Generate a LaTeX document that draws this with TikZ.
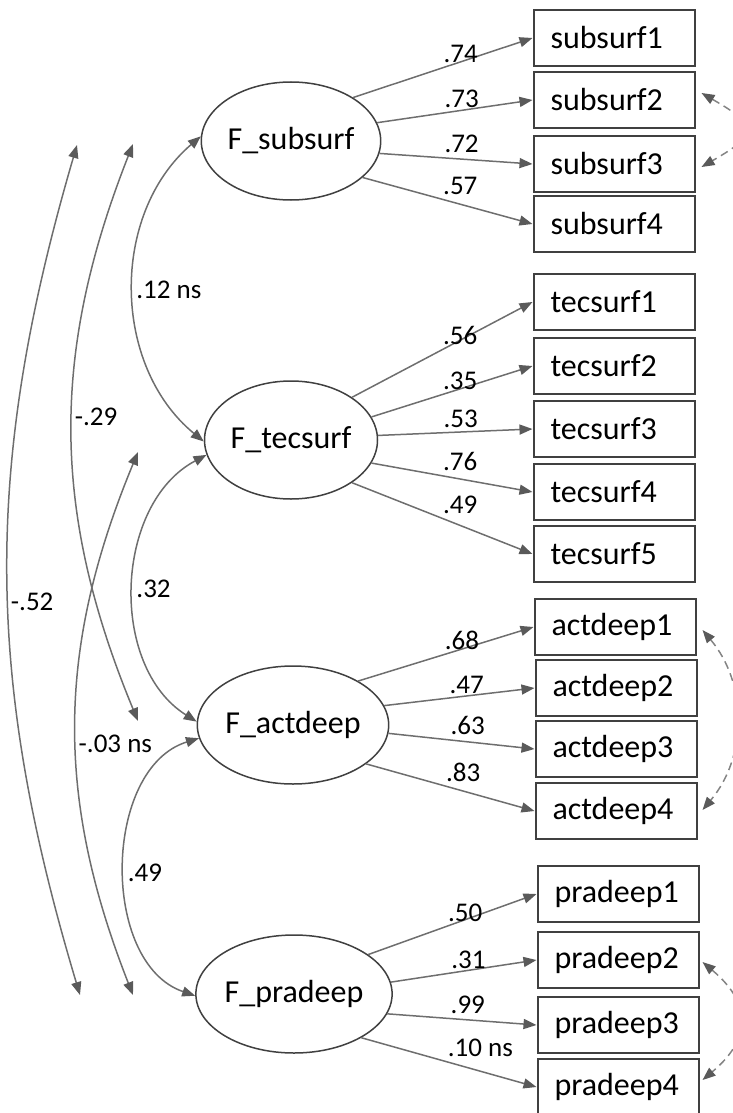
\documentclass[tikz,border=0pt]{standalone}
\usepackage{fontspec}
\setmainfont{Carlito}
\usetikzlibrary{shapes.geometric,arrows.meta}

\definecolor{linegray}{HTML}{6E6E6E}
\definecolor{tipgray}{HTML}{5A5A5A}
\definecolor{boxgray}{HTML}{404040}

\tikzset{
  semtip/.tip={Triangle[length=6.5pt,width=5pt,color=tipgray]},
  latent/.style={draw=boxgray, line width=0.75pt, ellipse, minimum width=86.5pt,
    minimum height=59pt, inner sep=0pt, font=\fontsize{16}{19}\selectfont},
  observed/.style={draw=boxgray, line width=1pt, rectangle, minimum height=28pt,
    text width=63.5pt, inner xsep=8.5pt, inner ysep=0pt, align=left,
    font=\fontsize{16}{19}\selectfont},
  loading/.style={draw=linegray, line width=0.75pt, -semtip},
  covar/.style={draw=linegray, line width=0.75pt, semtip-semtip},
  errcov/.style={draw=linegray!85, line width=0.75pt, dash pattern=on 4pt off 2.5pt, semtip-semtip},
  coef/.style={font=\fontsize{13.5}{16}\selectfont, anchor=south west, inner xsep=0pt, inner ysep=2pt},
  covlbl/.style={font=\fontsize{13.5}{16}\selectfont, anchor=west, inner sep=1pt}
}

\begin{document}
\begin{tikzpicture}[x=0.5pt,y=0.5pt]
\useasboundingbox (0,0) rectangle (733,-1113);

% Factors
\node[latent] (Fsub) at (291,-141) {F\_subsurf};
\node[latent] (Ftec) at (291,-440) {F\_tecsurf};
\node[latent] (Fact) at (293,-725) {F\_actdeep};
\node[latent] (Fpra) at (294,-994) {F\_pradeep};

% Items
\node[observed] (sub1) at (614,-38) {subsurf1};
\node[observed] (sub2) at (614,-100) {subsurf2};
\node[observed] (sub3) at (614,-164) {subsurf3};
\node[observed] (sub4) at (614,-224) {subsurf4};

\node[observed] (tec1) at (614,-302) {tecsurf1};
\node[observed] (tec2) at (614,-366) {tecsurf2};
\node[observed] (tec3) at (614,-429) {tecsurf3};
\node[observed] (tec4) at (614,-492) {tecsurf4};
\node[observed] (tec5) at (614,-554) {tecsurf5};

\node[observed] (act1) at (615,-627) {actdeep1};
\node[observed] (act2) at (616,-688) {actdeep2};
\node[observed] (act3) at (616,-749) {actdeep3};
\node[observed] (act4) at (616,-811) {actdeep4};

\node[observed] (pra1) at (618,-894) {pradeep1};
\node[observed] (pra2) at (618,-960) {pradeep2};
\node[observed] (pra3) at (618,-1025) {pradeep3};
\node[observed] (pra4) at (618,-1087) {pradeep4};

% Loadings
\draw[loading] (Fsub.35) -- node[coef, pos=.50] {.74} (sub1.west);
\draw[loading] (Fsub.12) -- node[coef, pos=.43] {.73} (sub2.west);
\draw[loading] (Fsub.-8) -- node[coef, pos=.42] {.72} (sub3.west);
\draw[loading] (Fsub.-27) -- node[coef, pos=.47] {.57} (sub4.west);

\draw[loading] (Ftec.35) -- node[coef, pos=.50] {.56} (tec1.west);
\draw[loading] (Ftec.16) -- node[coef, pos=.44] {.35} (tec2.west);
\draw[loading] (Ftec.3) -- node[coef, pos=.42] {.53} (tec3.west);
\draw[loading] (Ftec.-16) -- node[coef, pos=.44] {.76} (tec4.west);
\draw[loading] (Ftec.-35) -- node[coef, pos=.50] {.49} (tec5.west);

\draw[loading] (Fact.34) -- node[coef, pos=.49] {.68} (act1.west);
\draw[loading] (Fact.12) -- node[coef, pos=.43] {.47} (act2.west);
\draw[loading] (Fact.-5) -- node[coef, pos=.42] {.63} (act3.west);
\draw[loading] (Fact.-28) -- node[coef, pos=.47] {.83} (act4.west);

\draw[loading] (Fpra.28) -- node[coef, pos=.47] {.50} (pra1.west);
\draw[loading] (Fpra.7) -- node[coef, pos=.41] {.31} (pra2.west);
\draw[loading] (Fpra.-12) -- node[coef, pos=.42] {.99} (pra3.west);
\draw[loading] (Fpra.-33) -- node[coef, pos=.49] {.10 ns} (pra4.west);

% Factor covariances
\coordinate (sub-out1) at (77,-145);
\coordinate (sub-out2) at (133,-144);
\coordinate (tec-out) at (138,-452);
\coordinate (act-out) at (138,-721);
\coordinate (pra-out1) at (80,-995);
\coordinate (pra-out2) at (133,-995);

\draw[covar] (Fsub.177) to[bend right=50] node[covlbl] {.12 ns} (Ftec.181);
\draw[covar] (Ftec.190) to[bend right=60] node[covlbl, pos=.51] {.32} (Fact.178);
\draw[covar] (Fact.188) to[bend right=72] node[covlbl, pos=.52] {.49} (Fpra.181);
\draw[covar] (sub-out2) to[bend right=22] node[covlbl, pos=.47] {-.29} (act-out);
\draw[covar] (tec-out) to[bend right=22] node[covlbl, pos=.54] {-.03 ns} (pra-out2);
\draw[covar] (sub-out1) to[bend right=16.5] node[covlbl, pos=.54] {-.52} (pra-out1);

% Error covariances
\draw[errcov] ([shift={(6,7)}]sub2.east) to[bend left=60, looseness=2.3] ([shift={(6,-3)}]sub3.east);
\draw[errcov] ([shift={(6,-3)}]act1.east) to[bend left=40] ([shift={(5,1)}]act4.east);
\draw[errcov] ([shift={(3,-2)}]pra2.east) to[bend left=50, looseness=1.4] ([shift={(3,7)}]pra4.east);
\end{tikzpicture}
\end{document}
